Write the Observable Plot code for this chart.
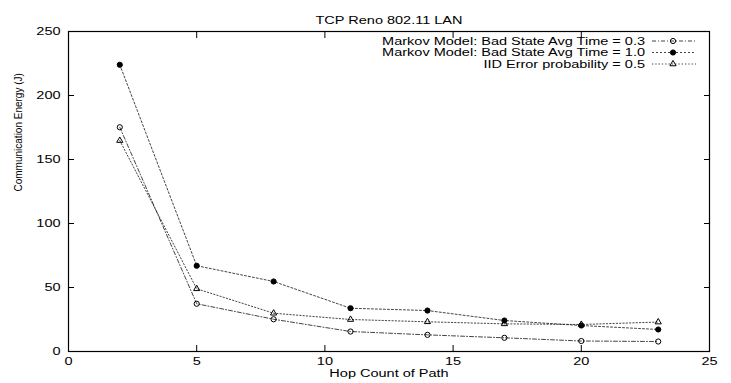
<!DOCTYPE html>
<html><head><meta charset="utf-8">
<script src="https://cdn.jsdelivr.net/npm/d3@7"></script>
<script src="https://cdn.jsdelivr.net/npm/@observablehq/plot@0.6"></script>
<style>
html,body{margin:0;padding:0;background:#fff;}
svg{display:block}
</style></head><body><div id="chart"></div>
<script>
const hops = [2, 5, 8, 11, 14, 17, 20, 23];
const markov03 = [175.2, 37.3, 25.2, 15.6, 13.0, 10.7, 8.2, 7.8];
const markov10 = [224, 67, 54.7, 33.8, 32.0, 24.2, 20.3, 17.2];
const iid05 = [164.8, 49, 29.9, 25.0, 23.2, 21.6, 21.1, 23.0];
const seriesNames = [
  "Markov Model: Bad State Avg Time = 0.3",
  "Markov Model: Bad State Avg Time = 1.0",
  "IID Error probability = 0.5"
];
const xTicks = [0, 5, 10, 15, 20, 25];
const yTicks = [0, 50, 100, 150, 200, 250];
const title = "TCP Reno 802.11 LAN";
const xLabel = "Hop Count of Path";
const yLabel = "Communication Energy (J)";

const seriesValues = [markov03, markov10, iid05];
const styles = [
  {dash: "4,2,1,2", symbol: "circle", fill: "none", r: 2.6},
  {dash: "2,2", symbol: "circle", fill: "black", r: 2.6},
  {dash: "1.3,2", symbol: "triangle", fill: "none", r: 2.3}
];
const rows = seriesNames.flatMap((s, i) => hops.map((h, j) => ({series: s, hop: h, energy: seriesValues[i][j]})));

const STRETCH = 1.45;

const marks = [
  Plot.frame({stroke: "black", strokeWidth: 1.2}),
  Plot.axisX({anchor: "bottom", ticks: xTicks, tickSize: 0, tickPadding: 6, label: null}),
  Plot.axisX({anchor: "bottom", ticks: xTicks, tickSize: -6, text: null, label: null}),
  Plot.axisX({anchor: "top", ticks: xTicks, tickSize: -6, text: null, label: null}),
  Plot.axisY({anchor: "left", ticks: yTicks, tickSize: 0, tickPadding: 8, label: null}),
  Plot.axisY({anchor: "left", ticks: yTicks, tickSize: -6, text: null, label: null}),
  Plot.axisY({anchor: "right", ticks: yTicks, tickSize: -6, text: null, label: null}),
  Plot.text([title], {frameAnchor: "top", dy: -15, text: d => d, fontSize: 10}),
  Plot.text([xLabel], {frameAnchor: "bottom", dy: 25, text: d => d, fontSize: 10}),
  Plot.text([yLabel], {frameAnchor: "left", dx: -50, rotate: -90, text: d => d, fontSize: 10})
];
seriesNames.forEach((s, i) => {
  const data = rows.filter(d => d.series === s);
  marks.push(Plot.line(data, {x: "hop", y: "energy", stroke: "#222", strokeWidth: 0.85, strokeDasharray: styles[i].dash}));
  marks.push(Plot.dot(data, {x: "hop", y: "energy", symbol: styles[i].symbol, r: styles[i].r, stroke: "black", strokeWidth: 1, fill: styles[i].fill}));
});

const svg = Plot.plot({
  width: 731, height: 383,
  marginLeft: 68, marginRight: 22, marginTop: 31, marginBottom: 32,
  style: {fontFamily: "'Liberation Sans', Arial, sans-serif", fontSize: "10px", color: "black", background: "white"},
  x: {domain: [0, 25]},
  y: {domain: [0, 250]},
  marks
});
document.getElementById("chart").append(svg);

// legend (top-right inside frame)
const lg = d3.select(svg).append("g").attr("class", "legend").attr("font-family", "'Liberation Sans', Arial, sans-serif").attr("font-size", 10);
const legendRowY = [41, 52.5, 64];
seriesNames.forEach((s, i) => {
  const y = legendRowY[i];
  lg.append("text").attr("x", 645).attr("y", y).attr("dy", "0.35em").attr("text-anchor", "end").attr("fill", "black").text(s);
  lg.append("line").attr("x1", 652).attr("x2", 696).attr("y1", y).attr("y2", y)
    .attr("stroke", "#222").attr("stroke-width", 0.85).attr("stroke-dasharray", styles[i].dash);
  const sym = d3.symbol(styles[i].symbol === "circle" ? d3.symbolCircle : d3.symbolTriangle, Math.PI * styles[i].r * styles[i].r);
  lg.append("path").attr("d", sym()).attr("transform", `translate(673,${y})`)
    .attr("stroke", "black").attr("stroke-width", 1).attr("fill", styles[i].fill);
});

// horizontal stretch of text to mimic the reference's wide lettering
svg.querySelectorAll("text").forEach(t => {
  const tr = (t.getAttribute("transform") || "") + (t.parentNode.getAttribute && t.parentNode.getAttribute("transform") || "");
  if (tr.includes("rotate")) return;
  const len = t.getComputedTextLength();
  if (len > 0) {
    t.setAttribute("textLength", (len * STRETCH).toFixed(2));
    t.setAttribute("lengthAdjust", "spacingAndGlyphs");
  }
});
</script></body></html>
